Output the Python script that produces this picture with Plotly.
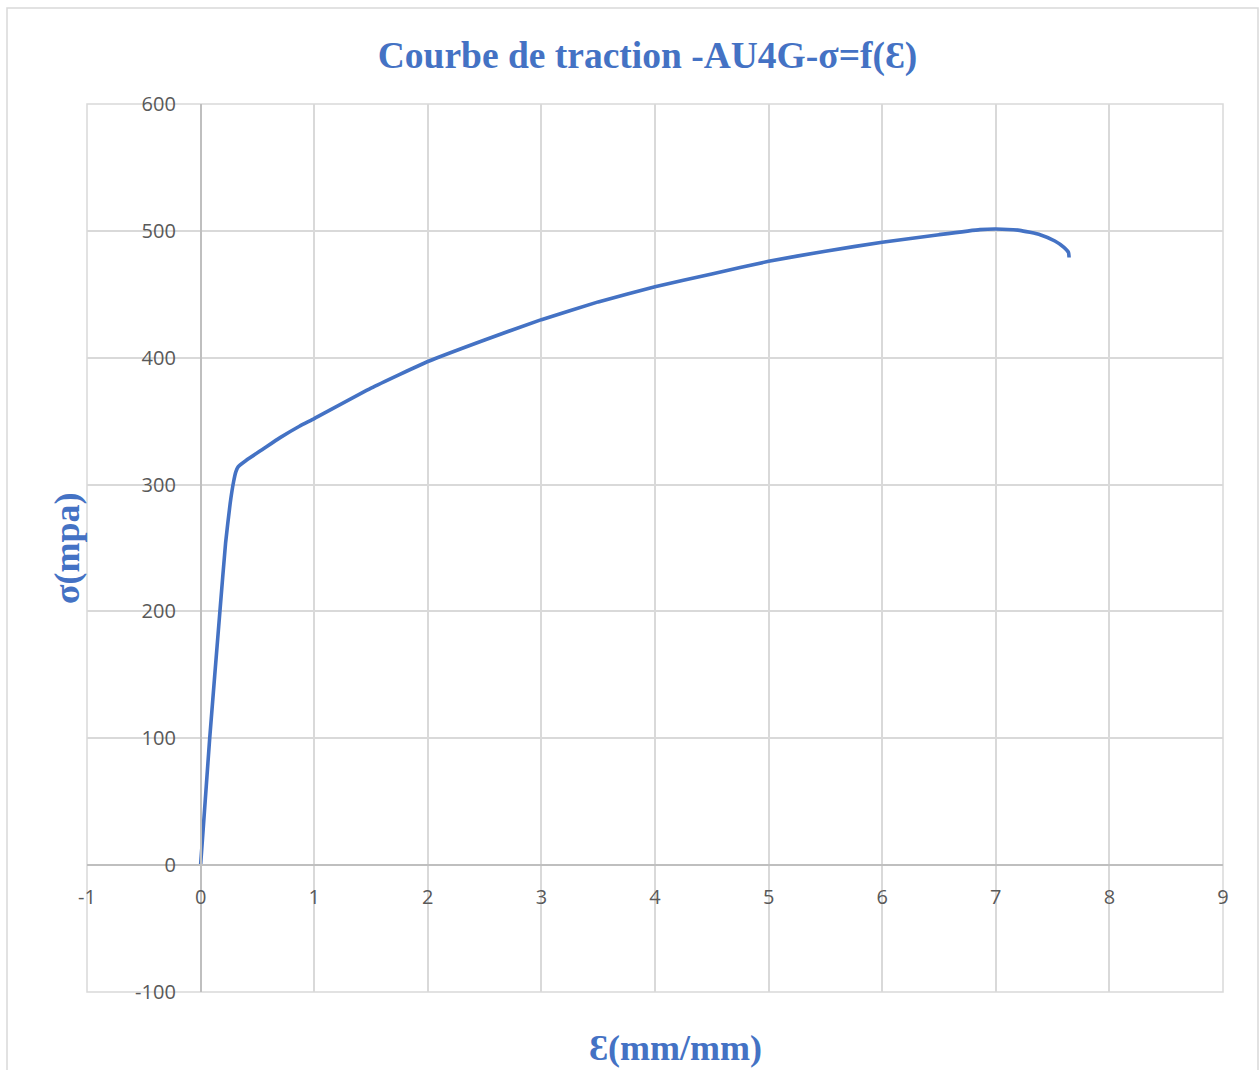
import plotly.graph_objects as go

# Data
strain = [0, 0.08, 0.17, 0.22, 0.26, 0.29, 0.31, 0.33, 0.40, 0.55, 0.70, 0.87, 1.0,
          1.5, 2.0, 2.5, 3.0, 3.5, 4.0, 4.5, 5.0, 5.5, 6.0, 6.5, 6.86, 7.0, 7.21,
          7.39, 7.52, 7.60, 7.64, 7.645]
stress = [0, 100, 200, 254, 285, 302, 310, 314, 319, 328, 337, 346, 352,
          376, 397, 414, 430, 444, 456, 466, 476, 484, 491, 497, 501, 501.5, 500.4,
          497, 492, 487, 483, 479]

x_ticks = [-1, 0, 1, 2, 3, 4, 5, 6, 7, 8, 9]
y_ticks = [-100, 0, 100, 200, 300, 400, 500, 600]

title_text = "Courbe de traction -AU4G-σ=f(Ɛ)"
x_title = "Ɛ(mm/mm)"
y_title = "σ(mpa)"

BLUE = "#4472C4"
GRID = "#d9d9d9"
AXIS = "#bfbfbf"
TICK = "#595959"
SERIF = "Liberation Serif, Times New Roman, DejaVu Serif, serif"
SANS = "Open Sans, Liberation Sans, sans-serif"

fig = go.Figure()
fig.add_trace(go.Scatter(
    x=strain, y=stress, mode="lines",
    line=dict(color=BLUE, width=3.6, shape="spline", smoothing=0.4),
    hoverinfo="x+y", showlegend=False,
))

xr = [x_ticks[0], x_ticks[-1]]
yr = [y_ticks[0], y_ticks[-1]]

fig.update_layout(
    width=1260, height=1070,
    margin=dict(l=87, r=37, t=104, b=78),
    paper_bgcolor="white", plot_bgcolor="white",
    title=dict(text="<b>" + title_text + "</b>", x=647.5 / 1260, y=1 - 55 / 1070,
               xanchor="center", yanchor="middle",
               font=dict(family=SERIF, size=37.5, color=BLUE)),
    xaxis=dict(range=xr, tickvals=x_ticks, ticktext=[str(v) for v in x_ticks],
               showgrid=True, gridcolor=GRID, gridwidth=1.5,
               zeroline=False, showline=True, linecolor=AXIS, linewidth=1.5,
               anchor="free", position=(0 - yr[0]) / (yr[1] - yr[0]),
               ticks="", ticklabelstandoff=14,
               tickfont=dict(family=SANS, size=20, color=TICK)),
    yaxis=dict(range=yr, tickvals=y_ticks, ticktext=[str(v) for v in y_ticks],
               showgrid=True, gridcolor=GRID, gridwidth=1.5,
               zeroline=False, showline=True, linecolor=AXIS, linewidth=1.5,
               anchor="free", position=(0 - xr[0]) / (xr[1] - xr[0]),
               ticks="", ticklabelstandoff=20,
               tickfont=dict(family=SANS, size=20, color=TICK)),
    annotations=[
        dict(text="<b>" + x_title + "</b>", xref="paper", yref="paper",
             x=(675.5 - 87) / 1136, y=(992 - 1048) / 888,
             xanchor="center", yanchor="middle", showarrow=False,
             font=dict(family=SERIF, size=36, color=BLUE)),
        dict(text="<b>" + y_title + "</b>", xref="paper", yref="paper",
             x=(67 - 87) / 1136, y=(992 - 548) / 888, textangle=-90,
             xanchor="center", yanchor="middle", showarrow=False,
             font=dict(family=SERIF, size=36, color=BLUE)),
    ],
    shapes=[
        # plot-area frame
        dict(type="rect", xref="x domain", yref="y domain", x0=0, x1=1, y0=0, y1=1,
             line=dict(color=GRID, width=1.5), layer="below"),
        # outer chart frame
        dict(type="rect", xref="paper", yref="paper",
             x0=(7 - 87) / 1136, x1=(1258 - 87) / 1136,
             y0=(992 - 1080) / 888, y1=(992 - 8) / 888,
             line=dict(color=GRID, width=1.5), layer="below"),
    ],
)

fig.write_html("out.html")
